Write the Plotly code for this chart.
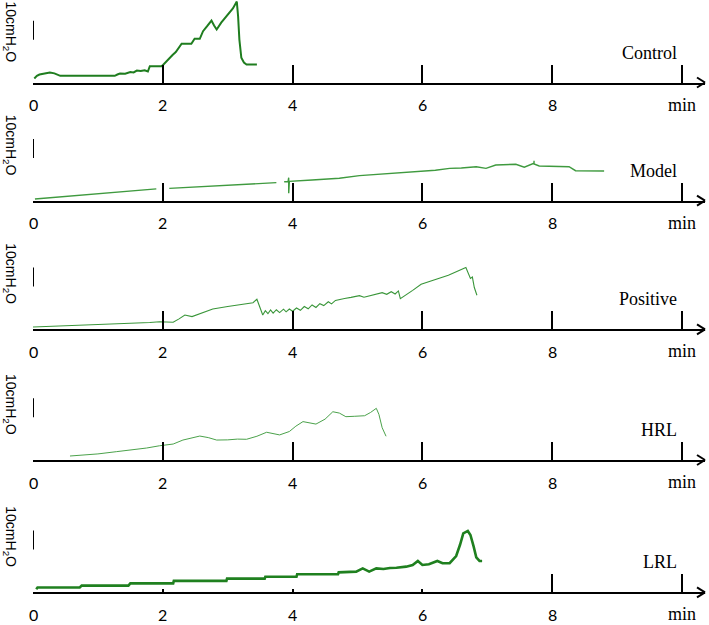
import plotly.graph_objects as go

# ---------------- data (time in min, pressure in cmH2O) ----------------
groups = ["Control", "Model", "Positive", "HRL", "LRL"]

ctrl_t = [0.02, 0.06, 0.10, 0.15, 0.20, 0.26, 0.33, 0.42, 0.6, 0.9, 1.26, 1.30, 1.34, 1.42, 1.50, 1.55,
          1.60, 1.66, 1.72, 1.77, 1.80, 1.83, 1.98, 2.00, 2.05, 2.10, 2.15, 2.20, 2.25, 2.29, 2.44, 2.49,
          2.57, 2.62, 2.68, 2.75, 2.79, 2.83, 2.9, 3.0, 3.08, 3.14, 3.16, 3.18, 3.21, 3.25, 3.29, 3.45]
ctrl_p = [2.1, 3.5, 4.2, 4.5, 4.8, 5.3, 4.8, 3.5, 3.5, 3.5, 3.5, 4.2, 4.7, 4.6, 5.5, 5.3,
          6.3, 6.0, 6.4, 5.8, 8.6, 8.6, 8.6, 9.1, 11.0, 12.5, 14.5, 16.0, 18.5, 20.4, 20.4, 23.0,
          23.0, 27.0, 29.5, 32.6, 30.0, 27.9, 31.5, 35.5, 39.0, 42.6, 35.0, 22.6, 13.0, 10.5, 9.5, 9.5]

model_t = [0.03, 0.5, 1.0, 1.5, 1.9, None, 2.1, 2.6, 3.1, 3.5, 3.75, None, 3.87, 3.93, 3.94, 3.94, 3.95,
           4.3, 4.72, 5.03, 5.5, 5.98, 6.2, 6.42, 6.6, 6.83, 6.98, 7.13, 7.3, 7.44, 7.57, 7.65, 7.72,
           7.72, 7.72, 7.8, 8.0, 8.26, 8.36, 8.6, 8.8]
model_p = [0.9, 2.2, 3.6, 5.0, 6.2, None, 6.5, 7.5, 8.5, 9.2, 9.5, None, 10.0, 10.1, 12.1, 3.9, 10.2,
           10.9, 11.8, 13.2, 14.4, 15.6, 16.0, 17.0, 17.2, 17.9, 17.0, 18.8, 18.9, 19.2, 17.6, 18.5, 19.7,
           21.0, 19.3, 18.3, 18.2, 17.9, 15.8, 15.7, 15.6]

pos_t = [0.0, 0.3, 0.6, 0.9, 1.2, 1.5, 1.8, 1.95, 2.05, 2.16, 2.25, 2.34, 2.45, 2.6, 2.77, 3.0, 3.2, 3.39,
         3.45, 3.50, 3.52, 3.54, 3.58, 3.62, 3.66, 3.70, 3.75, 3.80, 3.86, 3.90, 3.95, 4.00, 4.06, 4.12,
         4.18, 4.24, 4.30, 4.36, 4.42, 4.48, 4.55, 4.60, 4.66, 4.72, 4.80, 4.90, 5.03, 5.10, 5.20, 5.30,
         5.38, 5.45, 5.52, 5.58, 5.63, 5.66, 5.75, 5.85, 5.98, 6.2, 6.4, 6.67, 6.74, 6.77, 6.80, 6.84]
pos_p = [1.2, 1.6, 2.0, 2.3, 2.6, 3.0, 3.6, 4.0, 3.9, 3.7, 5.5, 7.5, 6.7, 8.5, 10.7, 12.0, 13.2, 14.0,
         15.8, 11.0, 9.0, 7.5, 9.8, 8.2, 10.2, 8.5, 10.3, 8.8, 10.6, 9.2, 10.7, 9.5, 11.2, 10.0,
         12.0, 10.8, 12.8, 11.5, 13.5, 12.5, 14.5, 13.4, 15.2, 15.8, 16.2, 16.8, 17.7, 16.9, 17.8, 18.5,
         19.3, 18.4, 19.8, 18.6, 20.2, 16.1, 18.0, 20.5, 23.7, 26.0, 28.5, 32.5, 26.8, 27.5, 22.0, 17.9]

hrl_t = [0.57, 0.8, 1.0, 1.29, 1.5, 1.75, 1.95, 2.16, 2.31, 2.45, 2.57, 2.7, 2.83, 3.0, 3.15, 3.29, 3.45,
         3.6, 3.7, 3.8, 3.95, 4.05, 4.16, 4.25, 4.36, 4.5, 4.62, 4.72, 4.82, 4.95, 5.11, 5.2, 5.29, 5.33,
         5.38, 5.44]
hrl_p = [2.1, 2.6, 3.2, 4.4, 5.2, 6.3, 7.5, 8.4, 10.5, 11.8, 12.6, 11.8, 10.5, 10.6, 11.0, 10.9, 12.5,
         14.6, 14.0, 13.2, 15.0, 17.8, 20.2, 19.6, 18.9, 21.5, 25.4, 24.7, 22.8, 23.0, 23.3, 25.0, 27.2, 24.0,
         17.0, 12.5]

lrl_t = [0.05, 0.07, 0.72, 0.75, 1.47, 1.50, 2.16, 2.17, 2.98, 2.99, 3.57, 3.58, 4.06, 4.07, 4.70, 4.71,
         4.98, 5.08, 5.18, 5.29, 5.4, 5.5, 5.6, 5.75, 5.85, 5.93, 6.0, 6.1, 6.23, 6.31, 6.42, 6.52, 6.58,
         6.63, 6.70, 6.74, 6.79, 6.83, 6.88, 6.92]
lrl_p = [1.6, 2.5, 2.5, 3.5, 3.5, 4.7, 4.7, 6.0, 6.0, 7.2, 7.2, 8.2, 8.2, 9.5, 9.5, 10.5,
         10.9, 12.6, 10.9, 12.6, 12.3, 12.8, 12.9, 13.5, 14.3, 16.5, 14.4, 14.8, 16.5, 15.3, 15.3, 19.1, 25.0,
         31.0, 32.3, 30.2, 24.0, 18.4, 16.5, 16.5]

series_t = [ctrl_t, model_t, pos_t, hrl_t, lrl_t]
series_p = [ctrl_p, model_p, pos_p, hrl_p, lrl_p]

tick_vals = [0, 2, 4, 6, 8, 10]
tick_text = ["0", "2", "4", "6", "8", "min"]
scale_bar_cmH2O = 10
scale_bar_base = 22.5
ylabel = "10cmH<sub>2</sub>O"

# ---------------- layout / styling ----------------
W, H = 709, 625
PX_PER_MIN = 64.9
PX_PER_UNIT = 1.9
X0_PX, XEND_PX = 33, 705
axis_px = [82.5, 200.7, 329.3, 460.0, 592.3]
ylabel_px = [51, 56, 56, 56, 56]   # label centre height above each time axis
panel_h = 82
XR = (XEND_PX - X0_PX) / PX_PER_MIN
YR = panel_h / PX_PER_UNIT

line_colors = ["#1f7d1f", "#3f9a3f", "#3a963a", "#4ba24b", "#1f801f"]
line_widths = [2.0, 1.4, 1.1, 1.0, 2.6]

SERIF = "Liberation Serif"
SANS = "Lato"

fig = go.Figure()
layout = dict(width=W, height=H, margin=dict(l=0, r=0, t=0, b=0, autoexpand=False),
              paper_bgcolor="white", plot_bgcolor="white", showlegend=False)
annotations, shapes = [], []

for i in range(5):
    n = i + 1
    xa, ya = f"x{n}", f"y{n}"
    fig.add_trace(go.Scatter(x=series_t[i], y=series_p[i], mode="lines", xaxis=xa, yaxis=ya,
                             line=dict(color=line_colors[i], width=line_widths[i]),
                             connectgaps=False, hoverinfo="skip"))
    bottom = 1 - axis_px[i] / H
    top = 1 - (axis_px[i] - panel_h) / H
    tv = [0, 8, 10] if i == 4 else tick_vals
    layout[f"xaxis{n}"] = dict(domain=[X0_PX / W, XEND_PX / W], range=[0, XR], anchor=ya,
                               showgrid=False, zeroline=False, showline=True, linecolor="black",
                               linewidth=2, ticks="inside", ticklen=18, tickwidth=2, tickcolor="black",
                               tickvals=tv, showticklabels=False, automargin=False, fixedrange=True)
    layout[f"yaxis{n}"] = dict(domain=[bottom, top], range=[0, YR], visible=False, fixedrange=True,
                               automargin=False)

    # time tick labels (numbers in sans, unit "min" in serif)
    for v, t in zip(tick_vals, tick_text):
        annotations.append(dict(text=t, xref=xa, yref=ya, x=v, y=0, yshift=-22,
                                showarrow=False, xanchor="center", yanchor="middle",
                                font=dict(family=SERIF if t == "min" else SANS,
                                          size=18 if t == "min" else 16, color="black")))

    # arrow head (open chevron) at the end of each time axis (paper refs -> not clipped)
    for dy in (5, -5):
        shapes.append(dict(type="line", xref="paper", yref="paper", xsizemode="pixel",
                           ysizemode="pixel", xanchor=XEND_PX / W, yanchor=bottom,
                           x0=-8, x1=0, y0=dy, y1=0, line=dict(color="black", width=2)))
    # 10 cmH2O scale bar
    shapes.append(dict(type="line", xref=xa, yref=ya, x0=0, x1=0, y0=scale_bar_base,
                       y1=scale_bar_base + scale_bar_cmH2O, line=dict(color="black", width=2)))
    # rotated unit label
    annotations.append(dict(text=ylabel, xref="paper", yref=ya, x=10 / W,
                            y=ylabel_px[i] / PX_PER_UNIT,
                            textangle=90, showarrow=False, xanchor="center", yanchor="middle",
                            font=dict(family="Liberation Sans", size=14, color="black")))
    # group label
    annotations.append(dict(text=groups[i], xref="paper", yref=ya, x=679 / W, y=30 / PX_PER_UNIT,
                            showarrow=False, xanchor="right", yanchor="middle",
                            font=dict(family=SERIF, size=18, color="black")))

# short ticks for LRL panel at 2, 4, 6
layout["xaxis6"] = dict(domain=[X0_PX / W, XEND_PX / W], range=[0, XR], anchor="y5", overlaying="x5",
                        showgrid=False, zeroline=False, showline=False, ticks="inside", ticklen=3,
                        tickwidth=2, tickcolor="black", tickvals=[2, 4, 6], showticklabels=False,
                        automargin=False, fixedrange=True)
fig.add_trace(go.Scatter(x=[None], y=[None], xaxis="x6", yaxis="y5", hoverinfo="skip"))

layout["annotations"] = annotations
layout["shapes"] = shapes
fig.update_layout(**layout)
fig.write_html("out.html", config={"displayModeBar": False, "staticPlot": True},
               post_script="document.body.style.margin='0';document.body.style.overflow='hidden';")
